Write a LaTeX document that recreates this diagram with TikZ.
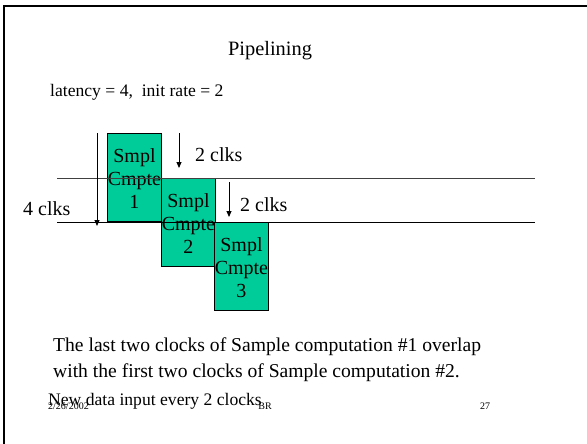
\documentclass[tikz,border=0pt]{standalone}
\usepackage{fontspec}
\setmainfont{Liberation Serif}
\usetikzlibrary{arrows.meta}
\definecolor{cmpgreen}{RGB}{0,204,153}
\tikzset{
  txt/.style={inner sep=0pt, anchor=base west, font=\fontsize{17.6}{20}\selectfont},
  note/.style={inner sep=0pt, anchor=base west, font=\fontsize{19.6}{22}\selectfont},
  big/.style={inner sep=0pt, anchor=base west, font=\fontsize{20}{23}\selectfont},
  foot/.style={inner sep=0pt, anchor=base west, font=\fontsize{10}{12}\selectfont},
  stagebox/.style={draw=black, line width=0.9pt, fill=cmpgreen, minimum width=54pt, minimum height=88pt, inner sep=0pt, anchor=north west},
  stagetext/.style={inner sep=0pt, anchor=base, align=center, font=\fontsize{20}{23}\selectfont},
  clkline/.style={line width=1pt},
  clkarrow/.style={line width=0.9pt, -{Triangle[length=6pt,width=5pt]}},
}
\begin{document}
\begin{tikzpicture}[x=1pt,y=-1pt]
\useasboundingbox (0,0) rectangle (587,444);
% slide frame (top and left edges)
\draw[line width=2.2pt] (4,444) -- (4,6) -- (590,6);

% title and headline
\node[inner sep=0pt, anchor=base, font=\fontsize{20.4}{24}\selectfont] (title) at (270,56) {Pipelining};
\node[txt] (spec) at (50,96) {latency = 4,\ \ init rate = 2};

% pipeline stages (text base anchor sits on the last line)
\node[stagebox] (c1) at (107,133) {};
\node[stagebox] (c2) at (161,178) {};
\node[stagebox] (c3) at (214,222) {};
\node[stagetext] (t1) at ([yshift=-75.5pt]c1.north) {Smpl\\Cmpte\\1};
\node[stagetext] (t2) at ([yshift=-75.5pt]c2.north) {Smpl\\Cmpte\\2};
\node[stagetext] (t3) at ([yshift=-75.5pt]c3.north) {Smpl\\Cmpte\\3};

% clock boundaries
\coordinate (l1a) at (57,178);
\coordinate (l1b) at (535,178);
\coordinate (l2a) at (57,222);
\coordinate (l2b) at (535,222);
\draw[clkline, black!75] (l1a) -- (l1b);
\draw[clkline] (l2a) -- (l2b);

% latency and initiation arrows
\coordinate (la) at (97,133);
\coordinate (lb) at (97,226);
\draw[clkarrow] (la) -- (lb);
\coordinate (ia) at (179,133);
\coordinate (ib) at (179,168);
\draw[clkarrow] (ia) -- (ib);
\coordinate (ja) at (229,182);
\coordinate (jb) at (229,217);
\draw[clkarrow] (ja) -- (jb);

\node[big] (lat) at (23,215) {4 clks};
\node[big] (r1) at (195,161) {2 clks};
\node[big] (r2) at (240,211) {2 clks};

% notes
\node[note] (n1) at (53,351) {The last two clocks of Sample computation \#1 overlap};
\node[note] (n2) at (53,377) {with the first two clocks of Sample computation \#2.};
\node[txt] (n3) at (48,405) {New data input every 2 clocks};

% footer
\node[foot] (date) at (48,409) {2/26/2002};
\node[foot, anchor=base] (auth) at (265,409) {BR};
\node[foot] (page) at (480,409) {27};
\end{tikzpicture}
\end{document}
